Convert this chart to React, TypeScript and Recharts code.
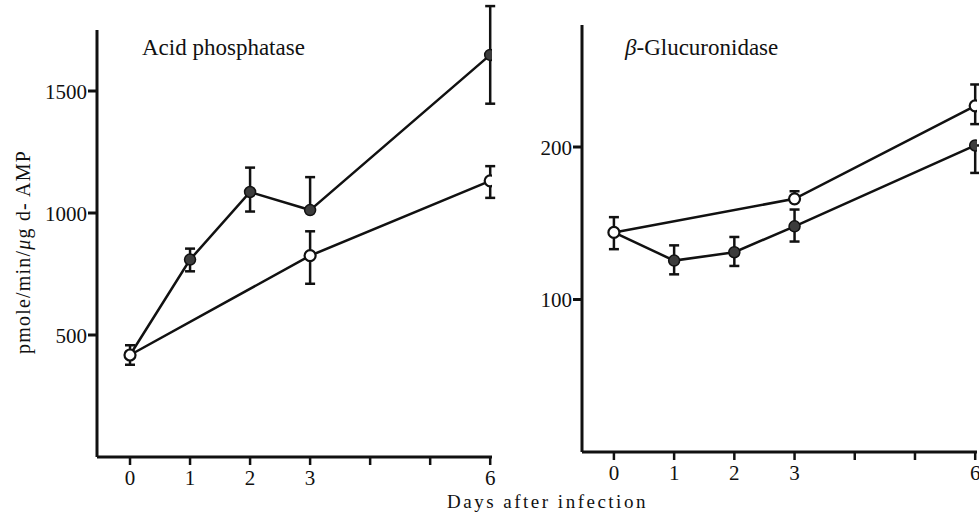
import { LineChart, Line, XAxis, YAxis, ErrorBar } from 'recharts'

// days after infection
const infectedDays = [0, 1, 2, 3, 6]
const controlDays = [0, 3, 6]
const xTicks = [0, 1, 2, 3, 4, 5, 6]

// Acid phosphatase (pmole/min/µg d-AMP)
const acidInfected = [418, 809, 1086, 1012, 1648]
const acidInfectedErr = [[0, 0], [48, 45], [80, 100], [0, 135], [200, 200]]
const acidControl = [418, 825, 1132]
const acidControlErr = [[40, 40], [115, 100], [70, 60]]
const acidTicks = [500, 1000, 1500]

// beta-Glucuronidase
const glucInfected = [144, 125.5, 131, 148, 201]
const glucInfectedErr = [[0, 0], [9, 10], [9, 10], [10, 11], [18, 0]]
const glucControl = [144, 166, 227]
const glucControlErr = [[11, 10], [0, 5], [12, 14]]
const glucTicks = [100, 200]

const INK = '#111'
const SERIF = '"Liberation Serif", "DejaVu Serif", serif'

const toRows = (days: number[], vals: number[], errs: number[][]) =>
    days.map((day, i) => ({ day, value: vals[i], err: errs[i] }))

const filledDot = (p: any) => {
    if (p.payload?.day === 0) return <g key={`f-${p.index}`} />
    return <circle key={`f-${p.index}`} cx={p.cx} cy={p.cy} r={5.5} fill="#3c3c3c" stroke={INK} strokeWidth={1.5} />
}

const openDot = (p: any) => (
    <circle key={`o-${p.index}`} cx={p.cx} cy={p.cy} r={5.5} fill="#fff" stroke={INK} strokeWidth={2.2} />
)

// unlabeled ticks at days 4 and 5
const xTick = (p: any) => {
    const v = p.payload?.value
    return (
        <text x={p.x} y={p.y} dy="0.71em" textAnchor="middle" fill={INK} fontSize={21} fontFamily={SERIF}>
            {v === 4 || v === 5 ? '' : String(v)}
        </text>
    )
}

const yTick = (p: any) => (
    <text x={p.x} y={p.y} dy="0.36em" textAnchor="end" fill={INK} fontSize={21} fontFamily={SERIF}>
        {String(p.payload?.value)}
    </text>
)

interface PanelProps {
    width: number
    yWidth: number
    top: number
    bottom: number
    right: number
    xDomain: [number, number]
    yDomain: [number, number]
    yTicks: number[]
    infected: ReturnType<typeof toRows>
    control: ReturnType<typeof toRows>
}

function Panel({ width, yWidth, top, bottom, right, xDomain, yDomain, yTicks, infected, control }: PanelProps) {
    return (
        <LineChart width={width} height={517} margin={{ top, right, bottom, left: 0 }}>
            <XAxis
                type="number"
                dataKey="day"
                domain={xDomain}
                ticks={xTicks}
                allowDataOverflow
                interval={0}
                axisLine={{ stroke: INK, strokeWidth: 3 }}
                tickLine={{ stroke: INK, strokeWidth: 2.5 }}
                tickSize={8}
                tickMargin={5}
                height={38}
                tick={xTick}
            />
            <YAxis
                type="number"
                domain={yDomain}
                ticks={yTicks}
                allowDataOverflow
                width={yWidth}
                axisLine={{ stroke: INK, strokeWidth: 3 }}
                tickLine={{ stroke: INK, strokeWidth: 3 }}
                tickSize={9}
                tickMargin={1}
                tick={yTick}
            />
            <Line
                data={infected}
                dataKey="value"
                stroke={INK}
                strokeWidth={2.5}
                dot={filledDot}
                activeDot={false}
                isAnimationActive={false}
            >
                <ErrorBar dataKey="err" direction="y" width={5} stroke={INK} strokeWidth={2.5} />
            </Line>
            <Line
                data={control}
                dataKey="value"
                stroke={INK}
                strokeWidth={2.5}
                dot={openDot}
                activeDot={false}
                isAnimationActive={false}
            >
                <ErrorBar dataKey="err" direction="y" width={5} stroke={INK} strokeWidth={2.5} />
            </Line>
        </LineChart>
    )
}

export default function App() {
    const text = { position: 'absolute' as const, whiteSpace: 'nowrap' as const, color: INK, fontFamily: SERIF, lineHeight: 1 }
    return (
        <div style={{ position: 'absolute', left: 0, top: 0, width: 979, height: 517, background: '#fff', overflow: 'hidden' }}>
            <div style={{ position: 'absolute', left: 0, top: 0 }}>
                <Panel
                    width={500}
                    yWidth={97}
                    top={30}
                    bottom={22}
                    right={8}
                    xDomain={[-0.55, 6.03]}
                    yDomain={[0, 1750]}
                    yTicks={acidTicks}
                    infected={toRows(infectedDays, acidInfected, acidInfectedErr)}
                    control={toRows(controlDays, acidControl, acidControlErr)}
                />
            </div>
            <div style={{ position: 'absolute', left: 490, top: 0 }}>
                <Panel
                    width={489}
                    yWidth={92}
                    top={25}
                    bottom={27}
                    right={2}
                    xDomain={[-0.53, 6.03]}
                    yDomain={[0, 280]}
                    yTicks={glucTicks}
                    infected={toRows(infectedDays, glucInfected, glucInfectedErr)}
                    control={toRows(controlDays, glucControl, glucControlErr)}
                />
            </div>
            <div style={{ ...text, left: 142, top: 36, fontSize: 23 }}>Acid phosphatase</div>
            <div style={{ ...text, left: 625, top: 36, fontSize: 23 }}>
                <i>β</i>-Glucuronidase
            </div>
            <div style={{ ...text, left: 447, top: 492, fontSize: 19, letterSpacing: 2.5 }}>Days after infection</div>
            <div
                style={{
                    ...text,
                    left: 23,
                    top: 252,
                    fontSize: 20,
                    letterSpacing: 1.2,
                    transform: 'translate(-50%, -50%) rotate(-90deg)',
                }}
            >
                pmole/min/<i>μ</i>g d- AMP
            </div>
        </div>
    )
}
